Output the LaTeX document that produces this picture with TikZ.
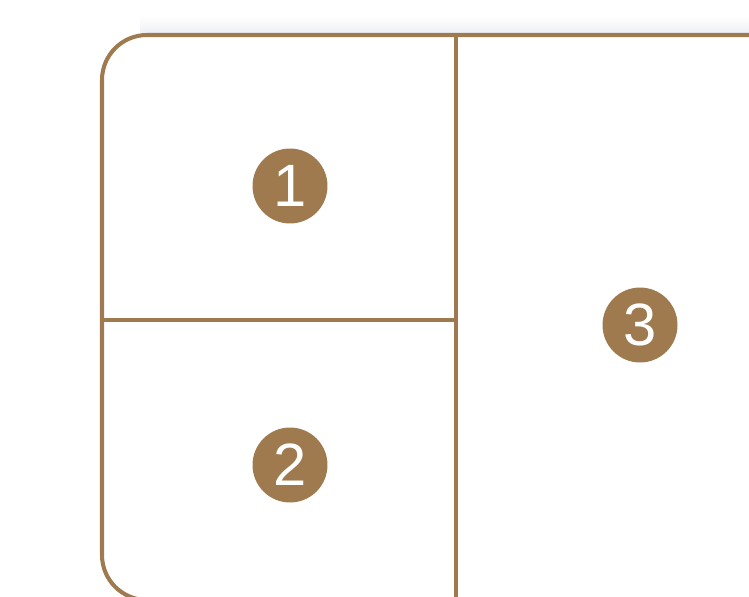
\documentclass[tikz,border=0pt]{standalone}
\usepackage{fontspec}
\setmainfont{Liberation Sans}
\definecolor{bronze}{RGB}{158,122,78}
\definecolor{haze}{RGB}{236,240,245}
\begin{document}
\begin{tikzpicture}[x=0.02cm,y=-0.02cm,
  frame/.style={draw=bronze, line width=2.3pt},
  badge/.style={circle, fill=bronze, text=white, minimum size=1.5cm, inner sep=0pt,
    font=\fontsize{34}{34}\selectfont}]
  % page area
  \clip (0,0) rectangle (749,597);
  % faint shadow above the top edge
  \shade[top color=white, bottom color=haze] (140,16) rectangle (760,33);
  % outer frame, running off the right side and the bottom
  \draw[frame, rounded corners=0.9cm] (820,35) -- (102,35) -- (102,600) -- (820,600);
  % dividers
  \draw[frame] (456,35) -- (456,600);
  \draw[frame] (102,320) -- (456,320);
  % numbered badges
  \node[badge] (one) at (290,186) {1};
  \node[badge] (two) at (290,465) {2};
  \node[badge] (three) at (640,325) {3};
\end{tikzpicture}
\end{document}
